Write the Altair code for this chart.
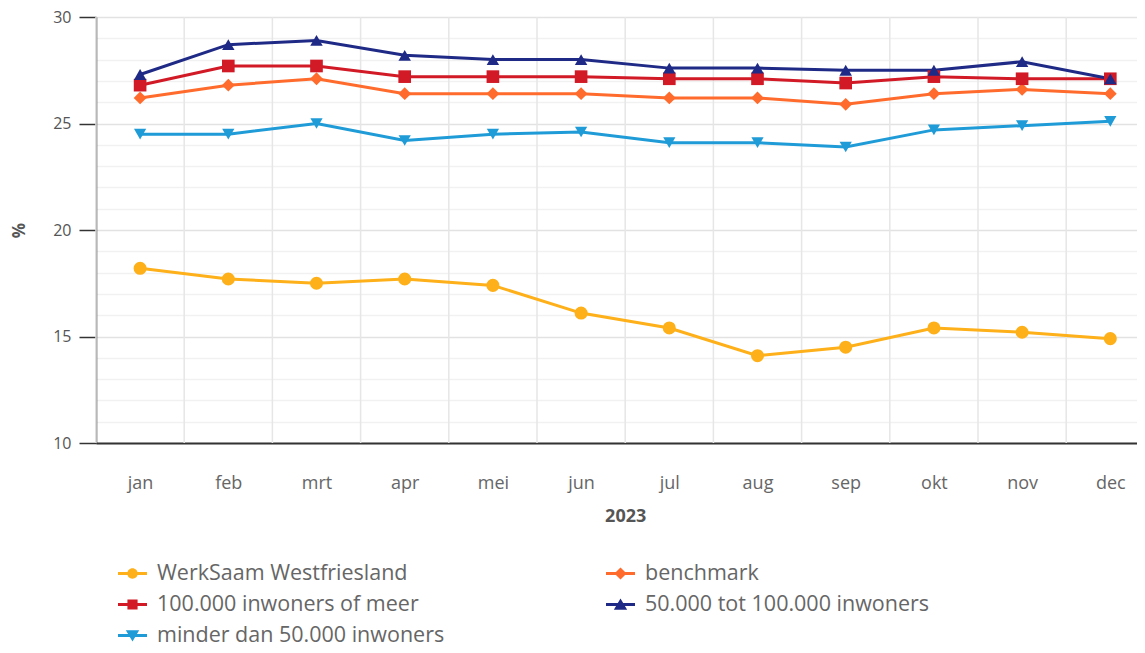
import json
import altair as alt
import pandas as pd

months = ["jan", "feb", "mrt", "apr", "mei", "jun", "jul", "aug", "sep", "okt", "nov", "dec"]

series_names = [
    "WerkSaam Westfriesland",
    "benchmark",
    "100.000 inwoners of meer",
    "50.000 tot 100.000 inwoners",
    "minder dan 50.000 inwoners",
]

werksaam = [18.2, 17.7, 17.5, 17.7, 17.4, 16.1, 15.4, 14.1, 14.5, 15.4, 15.2, 14.9]
benchmark = [26.2, 26.8, 27.1, 26.4, 26.4, 26.4, 26.2, 26.2, 25.9, 26.4, 26.6, 26.4]
groot = [26.8, 27.7, 27.7, 27.2, 27.2, 27.2, 27.1, 27.1, 26.9, 27.2, 27.1, 27.1]
middel = [27.3, 28.7, 28.9, 28.2, 28.0, 28.0, 27.6, 27.6, 27.5, 27.5, 27.9, 27.1]
klein = [24.5, 24.5, 25.0, 24.2, 24.5, 24.6, 24.1, 24.1, 23.9, 24.7, 24.9, 25.1]

colors = ["#FDB019", "#FF6B2C", "#D11A26", "#1F2A86", "#1F9BD7"]
shapes = ["circle", "diamond", "square", "triangle-up", "triangle-down"]
sizes = [170, 150, 165, 230, 230]

bar = "M-1,-0.1L1,-0.1L1,0.1L-1,0.1Z"
legend_shapes = [
    bar + "M-0.36,0A0.36,0.36,0,1,1,0.36,0A0.36,0.36,0,1,1,-0.36,0Z",
    bar + "M0,-0.42L0.42,0L0,0.42L-0.42,0Z",
    bar + "M-0.35,-0.35L0.35,-0.35L0.35,0.35L-0.35,0.35Z",
    bar + "M0,-0.42L0.46,0.36L-0.46,0.36Z",
    bar + "M-0.46,-0.36L0.46,-0.36L0,0.42Z",
]

rows = []
for name, vals in zip(series_names, [werksaam, benchmark, groot, middel, klein]):
    for i, (m, v) in enumerate(zip(months, vals)):
        rows.append({"maand": m, "idx": i, "reeks": name, "waarde": v})
df = pd.DataFrame(rows)
grid_df = pd.DataFrame({"maand": months, "idx": list(range(len(months)))})

FONT = "Open Sans"
W = 1041
STEP = 88.2  # pixels per month; the last month band runs past the picture's right edge

x_scale = alt.Scale(domain=[-0.5, -0.5 + W / STEP], nice=False, zero=False)
y_scale = alt.Scale(domain=[10, 30], nice=False, zero=False)

x_axis = alt.Axis(
    values=list(range(len(months))),
    labelExpr=json.dumps(months) + "[datum.value]",
    grid=False,
    ticks=False,
    domainColor="#333333",
    domainWidth=2,
    labelFont=FONT,
    labelFontSize=18,
    labelColor="#666666",
    labelPadding=31,
    labelAngle=0,
    labelFlush=False,
    titleFont=FONT,
    titleFontSize=18,
    titleFontWeight="bold",
    titleColor="#555555",
    titlePadding=15,
    titleX=STEP * len(months) / 2,
)

y_axis = alt.Axis(
    values=list(range(10, 31)),
    labelExpr="datum.value % 5 === 0 ? datum.label : ''",
    labelOverlap=False,
    grid=True,
    gridColor=alt.condition("datum.value % 5 === 0", alt.value("#e2e2e2"), alt.value("#f1f1f1")),
    gridWidth=1.5,
    domainColor="#333333",
    domainWidth=1.5,
    tickColor="#333333",
    tickWidth=1.5,
    tickSize=17,
    tickOpacity=alt.condition("datum.value % 5 === 0", alt.value(1), alt.value(0)),
    labelFont=FONT,
    labelFontSize=16,
    labelColor="#555555",
    labelPadding=8,
    titleFont=FONT,
    titleFontSize=17,
    titleFontWeight="bold",
    titleColor="#555555",
    titlePadding=24,
)


def x_enc(field="idx:Q"):
    return alt.X(field, scale=x_scale, title="2023", axis=x_axis)


def y_enc():
    return alt.Y("waarde:Q", scale=y_scale, title="%", axis=y_axis)


rules = (
    alt.Chart(grid_df)
    .transform_calculate(grens="datum.idx - 0.5")
    .mark_rule(color="#e6e6e6", strokeWidth=1.5)
    .encode(x=x_enc("grens:Q"))
)

color_plain = alt.Color(
    "reeks:N", scale=alt.Scale(domain=series_names, range=colors), legend=None
)

lines = alt.Chart(df).mark_line(strokeWidth=3).encode(
    x=x_enc(), y=y_enc(), color=color_plain, order="idx:Q"
)

points = alt.Chart(df).mark_point(filled=True, opacity=1, strokeWidth=0).encode(
    x=x_enc(),
    y=y_enc(),
    color=color_plain,
    shape=alt.Shape("reeks:N", scale=alt.Scale(domain=series_names, range=shapes), legend=None),
    size=alt.Size("reeks:N", scale=alt.Scale(domain=series_names, range=sizes), legend=None),
)

leg = alt.Legend(
    orient="none",
    direction="horizontal",
    legendX=22,
    legendY=542,
    columns=2,
    columnPadding=161,
    rowPadding=6,
    title=None,
    labelFont=FONT,
    labelFontSize=21.5,
    labelColor="#666666",
    labelOffset=10,
    labelLimit=500,
    symbolSize=841,
    symbolStrokeWidth=0,
    padding=0,
)

legend_layer = alt.Chart(df).transform_filter("false").mark_point(filled=True, opacity=1).encode(
    x=x_enc(),
    y=y_enc(),
    color=alt.Color("reeks:N", scale=alt.Scale(domain=series_names, range=colors), legend=leg),
    shape=alt.Shape("reeks:N", scale=alt.Scale(domain=series_names, range=legend_shapes), legend=leg),
)

chart = (
    alt.layer(rules, lines, points, legend_layer)
    .resolve_scale(color="independent", shape="independent", size="independent")
    .properties(
        width=W,
        height=426,
        autosize=alt.AutoSizeParams(type="none"),
        padding={"left": 88, "top": 9, "right": 0, "bottom": 202},
    )
    .configure_view(stroke=None)
    .configure(background="white")
)

chart.save("out.html", embed_options={"renderer": "svg", "actions": False})
